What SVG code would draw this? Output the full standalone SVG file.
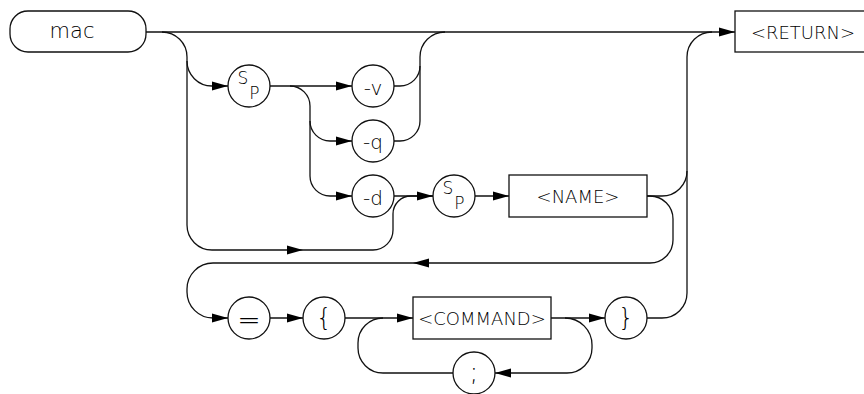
<svg xmlns="http://www.w3.org/2000/svg" xmlns:xlink="http://www.w3.org/1999/xlink" width="864" height="394" viewBox="0 0 864 394">
<style>
.ln{fill:none;stroke:#111;stroke-width:1.3}
.nd{fill:#fff;stroke:#111;stroke-width:1.3}
.t{font-family:"DejaVu Sans","Liberation Sans",sans-serif;font-weight:200;font-size:18px;fill:#000;text-anchor:middle}
.lc{font-size:20px}
.s{font-size:17px}
.ah{fill:#000}
</style>
<defs>
<path id="ah" d="M0,0 L-16,-4.5 L-16,4.5 Z"/>
</defs>
<rect width="864" height="394" fill="#fff"/>
<g id="connectors">
<path class="ln" d="M146,32 H735"/>
<path class="ln" d="M162,32 A25,25 0 0 1 187,57 V225 A25,25 0 0 0 212,250 H373 A20,20 0 0 0 393,230 V214 A18,18 0 0 1 411,196 H433"/>
<path class="ln" d="M187,61 A25,25 0 0 0 212,86 H228"/>
<path class="ln" d="M270,86 H352"/>
<path class="ln" d="M290,86 A20,20 0 0 1 310,106 V176 A20,20 0 0 0 330,196 H352"/>
<path class="ln" d="M310,121 A20,20 0 0 0 330,141 H352"/>
<path class="ln" d="M394,86 H400 A20,20 0 0 0 420,66"/>
<path class="ln" d="M394,141 H400 A20,20 0 0 0 420,121 V57 A25,25 0 0 1 445,32"/>
<path class="ln" d="M394,196 H433"/>
<path class="ln" d="M475,196 H509"/>
<path class="ln" d="M647,196 H662 A25,25 0 0 0 687,171"/>
<path class="ln" d="M647,196 H650 A23,23 0 0 1 673,219 V240 A23,23 0 0 1 650,263 H213 A26,26 0 0 0 187,289 V292 A26,26 0 0 0 213,318 H228"/>
<path class="ln" d="M270,318 H303"/>
<path class="ln" d="M345,318 H413"/>
<path class="ln" d="M453,373 H383 A25,25 0 0 1 358,348 V343 A25,25 0 0 1 383,318"/>
<path class="ln" d="M551,318 H605"/>
<path class="ln" d="M565,318 A27,27 0 0 1 592,345 V348 A25,25 0 0 1 567,373 H495"/>
<path class="ln" d="M647,318 H662 A25,25 0 0 0 687,293 V57 A25,25 0 0 1 712,32"/>
<g class="ah">
<use xlink:href="#ah" transform="translate(228,86)"/>
<use xlink:href="#ah" transform="translate(352,86)"/>
<use xlink:href="#ah" transform="translate(352,141)"/>
<use xlink:href="#ah" transform="translate(352,196)"/>
<use xlink:href="#ah" transform="translate(433,196)"/>
<use xlink:href="#ah" transform="translate(509,196)"/>
<use xlink:href="#ah" transform="translate(303,250)"/>
<use xlink:href="#ah" transform="translate(413,263) rotate(180)"/>
<use xlink:href="#ah" transform="translate(228,318)"/>
<use xlink:href="#ah" transform="translate(303,318)"/>
<use xlink:href="#ah" transform="translate(413,318)"/>
<use xlink:href="#ah" transform="translate(605,318)"/>
<use xlink:href="#ah" transform="translate(495,373) rotate(180)"/>
<use xlink:href="#ah" transform="translate(735,32)"/>
</g>
</g>
<g id="mac"><rect class="nd" x="10" y="11" width="136" height="41" rx="18" ry="18"/><text class="t" x="72" y="38" style="font-size:21px">mac</text></g>
<g id="return"><rect class="nd" x="735" y="11" width="131" height="41"/><text class="t" x="803" y="39">&lt;RETURN&gt;</text></g>
<g id="sp1"><circle class="nd" cx="249" cy="86" r="21"/><text class="t s" x="243" y="83.5">S</text><text class="t s" x="254.5" y="98.5">P</text></g>
<g id="opt-v"><circle class="nd" cx="373" cy="86" r="21"/><text class="t lc" x="373" y="94.5">-v</text></g>
<g id="opt-q"><circle class="nd" cx="373" cy="141" r="21"/><text class="t lc" x="373" y="149">-q</text></g>
<g id="opt-d"><circle class="nd" cx="373" cy="196" r="21"/><text class="t lc" x="373" y="204.5">-d</text></g>
<g id="sp2"><circle class="nd" cx="454" cy="196" r="21"/><text class="t s" x="448" y="194">S</text><text class="t s" x="459.5" y="208.5">P</text></g>
<g id="name"><rect class="nd" x="509" y="175" width="138" height="42"/><text class="t" x="578" y="203">&lt;NAME&gt;</text></g>
<g id="equals"><circle class="nd" cx="249" cy="318" r="21"/><text class="t" x="249" y="328.5" style="font-size:28px">=</text></g>
<g id="lbrace"><circle class="nd" cx="324" cy="318" r="21"/><text class="t" x="324" y="326" style="font-size:24px">{</text></g>
<g id="command"><rect class="nd" x="413" y="297" width="138" height="42"/><text class="t" x="482" y="325">&lt;COMMAND&gt;</text></g>
<g id="rbrace"><circle class="nd" cx="626" cy="318" r="21"/><text class="t" x="626" y="326" style="font-size:24px">}</text></g>
<g id="semicolon"><circle class="nd" cx="474" cy="373" r="21"/><text class="t" x="474" y="381" style="font-size:26px">;</text></g>
</svg>
